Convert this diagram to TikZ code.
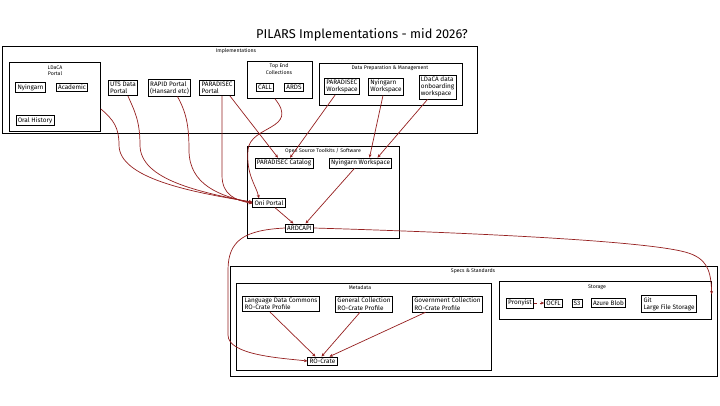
\documentclass[tikz,border=0pt]{standalone}
\usepackage{fontspec}
\setmainfont{Fira Sans}
\usetikzlibrary{arrows.meta}
\definecolor{linkred}{RGB}{150,32,32}
\tikzset{
  box/.style={draw, line width=0.7pt, inner sep=1.8pt, align=left,
    font=\fontsize{6.4}{7.2}\selectfont},
  grp/.style={draw, line width=0.7pt, anchor=north west, inner sep=0pt},
  grplabel/.style={align=center, inner sep=0pt, font=\fontsize{5.2}{6.2}\selectfont},
  link/.style={draw=linkred, line width=0.7pt, -{Stealth[length=3.5pt,width=3pt]}},
}

\begin{document}
\begin{tikzpicture}[x=1pt,y=-1pt]
\useasboundingbox[fill=white] (0,0) rectangle (720,405);
\node[font=\fontsize{12.8}{15}\selectfont] (title) at (362,35) {PILARS Implementations - mid 2026?};

% implementations
\node[grp, minimum width=475pt, minimum height=87pt] (impl) at (2,46) {};
\node[grplabel] (implLabel) at (236,51) {Implementations};
\node[grp, minimum width=91pt, minimum height=69pt] (ldaca) at (9,62) {};
\node[grplabel] (ldacaLabel) at (55,71) {LDaCA\\Portal};
\node[box] (nyingarn) at (30.5,87.5) {Nyingarn};
\node[box] (academic) at (72,87.5) {Academic};
\node[box] (oral) at (35,120.5) {Oral History};
\node[box] (uts) at (123,88) {UTS Data\\Portal};
\node[box] (rapid) at (169.5,88) {RAPID Portal\\(Hansard etc)};
\node[box] (paraPortal) at (217,88) {PARADISEC\\Portal};
\node[grp, minimum width=65pt, minimum height=37pt] (topEnd) at (247,61) {};
\node[grplabel] (topEndLabel) at (279,69) {Top End\\Collections};
\node[box] (call) at (265,87) {CALL};
\node[box] (ards) at (294,87) {ARDS};
\node[grp, minimum width=143pt, minimum height=42pt] (dataPrep) at (319,63) {};
\node[grplabel] (dataPrepLabel) at (390,68) {Data Preparation \& Management};
\node[box] (paraWs) at (342,86.5) {PARADISEC\\Workspace};
\node[box] (nyWs) at (386,86.5) {Nyingarn\\Workspace};
\node[box] (ldacaWs) at (437.5,87) {LDaCA data\\onboarding\\workspace};

% toolkits
\node[grp, minimum width=152pt, minimum height=92pt] (toolkits) at (247,146) {};
\node[grplabel] (toolkitsLabel) at (323,151) {Open Source Toolkits / Software};
\node[box] (paraCat) at (284,163) {PARADISEC Catalog};
\node[box] (nyTool) at (360.5,163) {Nyingarn Workspace};
\node[box] (oni) at (269,203) {Oni Portal};
\node[box] (ardc) at (299.5,228) {ARDCAPI};

% specs
\node[grp, minimum width=487pt, minimum height=110pt] (specs) at (230,266) {};
\node[grplabel] (specsLabel) at (473,271) {Specs \& Standards};
\node[grp, minimum width=255pt, minimum height=87pt] (metadata) at (236,283) {};
\node[grplabel] (metadataLabel) at (360,288) {Metadata};
\node[box] (ldcProf) at (281,304) {Language Data Commons\\RO-Crate Profile};
\node[box] (genProf) at (364,304) {General Collection\\RO-Crate Profile};
\node[box] (govProf) at (447.5,304) {Government Collection\\RO-Crate Profile};
\node[box] (rocrate) at (322.5,361) {RO-Crate};
\node[grp, minimum width=212pt, minimum height=38pt] (storage) at (499,281) {};
\node[grplabel] (storageLabel) at (597,287) {Storage};
\node[box] (prov) at (520,303) {Pronyist};
\node[box] (ocfl) at (553.5,303) {OCFL};
\node[box] (s3) at (577,303) {S3};
\node[box] (azure) at (608.5,303) {Azure Blob};
\node[box] (git) at (669,304) {Git\\Large File Storage};

% links
\draw[link] ([yshift=-12pt]ldaca.east) .. controls (114,120) and (119,128) .. (119,145)
  .. controls (119,178) and (190,192) .. ([yshift=1pt]oni.west);
\draw[link] ([xshift=5pt]uts.south) .. controls (134,110) and (140,120) .. (140,145)
  .. controls (140,180) and (200,192) .. ([yshift=0.5pt]oni.west);
\draw[link] ([xshift=8pt]rapid.south) .. controls (186,112) and (189,125) .. (189,150)
  .. controls (189,185) and (220,196) .. (oni.west);
\draw[link] ([xshift=5pt]paraPortal.south) -- (222,175) .. controls (222,195) and (235,200) .. ([yshift=-0.5pt]oni.west);
\draw[link] ([xshift=13pt]paraPortal.south) -- ([xshift=-6pt]paraCat.north);
\draw[link] ([xshift=-5pt]topEnd.south) .. controls (300,130) and (250,125) .. (248,150)
  .. controls (246,175) and (256,185) .. ([xshift=-10pt]oni.north);
\draw[link] ([xshift=-7pt]paraWs.south) -- ([xshift=6pt]paraCat.north);
\draw[link] ([xshift=-3pt]nyWs.south) -- ([xshift=9pt]nyTool.north);
\draw[link] ([xshift=-10pt]ldacaWs.south) -- ([xshift=17pt]nyTool.north);
\draw[link] ([xshift=6pt]oni.south) -- ([xshift=-6pt]ardc.north);
\draw[link] ([xshift=-6pt]nyTool.south) -- ([xshift=6pt]ardc.north);
\draw[link] (ardc.west) .. controls (245,230) and (228,240) .. (228,270) -- (228,335)
  .. controls (228,355) and (280,358) .. (rocrate.west);
\draw[link] (ardc.east) .. controls (450,232) and (640,240) .. (685,252)
  .. controls (708,258) and (711,272) .. ([yshift=6pt]storage.east);
\draw[link] ([xshift=-11pt]ldcProf.south) -- ([xshift=-7pt]rocrate.north);
\draw[link] ([xshift=-4pt]genProf.south) -- ([xshift=-1pt]rocrate.north);
\draw[link] ([xshift=-22pt]govProf.south) -- ([xshift=7pt]rocrate.north);
\draw[link, dashed] (prov.east) -- (ocfl.west);
\end{tikzpicture}
\end{document}
